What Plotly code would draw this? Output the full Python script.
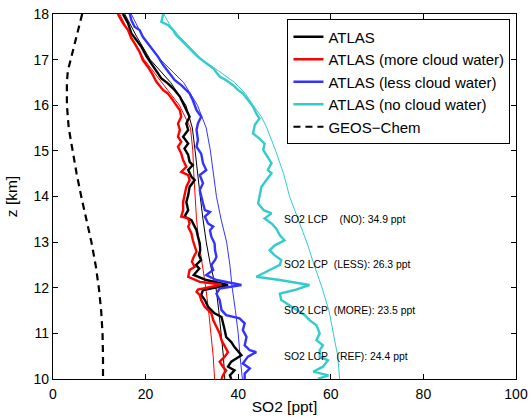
import plotly.graph_objects as go

# ---------------- data ----------------
# ATLAS reference (thick)
z_ref = [18.0, 17.80, 17.58, 17.43, 17.28, 17.07, 16.92, 16.74, 16.59, 16.48, 16.33, 16.19, 16.04, 15.89, 15.75,
         15.60, 15.46, 15.31, 15.16, 15.05, 14.91, 14.76, 14.69, 14.58, 14.43, 14.36, 14.21, 14.03, 13.88, 13.70,
         13.56, 13.48, 13.41, 13.26, 13.12, 12.97, 12.82, 12.72, 12.61, 12.50, 12.42, 12.28, 12.17, 12.06, 11.95,
         11.84, 11.73, 11.58, 11.51, 11.44, 11.36, 11.25, 11.07, 10.92, 10.81, 10.70, 10.52, 10.38, 10.27, 10.19,
         10.08, 10.0]
so2_ref = [15.1, 16.2, 16.9, 18.0, 19.1, 20.2, 21.2, 22.3, 23.4, 24.8, 26.3, 27.4, 28.1, 28.8, 29.5,
           28.8, 29.2, 28.1, 29.2, 28.4, 29.2, 29.5, 30.2, 29.2, 29.9, 30.6, 29.5, 29.2, 28.8, 29.2,
           28.4, 29.9, 30.2, 31.0, 31.3, 31.7, 31.8, 31.5, 32.0, 30.9, 31.6, 30.4, 33.1, 37.8, 32.4,
           32.0, 32.8, 33.5, 34.2, 34.9, 36.4, 36.7, 37.1, 37.4, 38.5, 39.2, 40.7, 38.5, 37.8, 39.2,
           38.2, 38.5]

# ATLAS more cloud water (thick)
z_more = [18.0, 17.80, 17.65, 17.47, 17.36, 17.17, 16.99, 16.84, 16.66, 16.52, 16.33, 16.26, 16.15, 16.04, 15.89,
          15.75, 15.60, 15.46, 15.31, 15.20, 15.09, 14.94, 14.80, 14.65, 14.54, 14.47, 14.36, 14.21, 14.03, 13.88,
          13.70, 13.56, 13.52, 13.41, 13.34, 13.19, 13.04, 12.90, 12.79, 12.68, 12.57, 12.46, 12.39, 12.24, 12.13,
          12.07, 11.96, 11.91, 11.84, 11.73, 11.58, 11.51, 11.44, 11.29, 11.14, 11.00, 10.85, 10.71, 10.59, 10.49,
          10.38, 10.27, 10.19, 10.08, 10.0]
so2_more = [14.0, 15.1, 16.2, 16.9, 17.6, 18.7, 19.4, 20.5, 21.6, 22.3, 23.8, 24.8, 25.6, 26.3, 27.4,
            27.7, 27.0, 27.4, 27.0, 27.7, 27.0, 27.7, 28.1, 28.8, 27.7, 29.2, 29.5, 28.8, 28.4, 28.1,
            28.1, 27.7, 29.2, 29.5, 29.2, 29.9, 30.2, 30.6, 31.0, 30.4, 30.0, 30.6, 29.5, 29.2, 31.7,
            36.4, 31.3, 31.0, 31.7, 32.0, 32.8, 33.5, 34.2, 34.6, 35.3, 36.0, 36.4, 37.1, 37.8, 37.1,
            36.0, 36.7, 37.4, 36.7, 36.4]

# ATLAS less cloud water (thick)
z_less = [18.0, 17.87, 17.72, 17.65, 17.50, 17.36, 17.21, 17.06, 16.88, 16.74, 16.55, 16.44, 16.26, 16.11, 15.89,
          15.75, 15.60, 15.46, 15.24, 15.09, 14.94, 14.73, 14.58, 14.47, 14.29, 14.14, 13.99, 13.85, 13.70, 13.66,
          13.56, 13.41, 13.34, 13.26, 13.12, 12.97, 12.82, 12.68, 12.61, 12.50, 12.39, 12.28, 12.17, 12.06, 11.98,
          11.87, 11.73, 11.51, 11.40, 11.33, 11.22, 11.07, 10.92, 10.74, 10.63, 10.59, 10.49, 10.34, 10.23, 10.12,
          10.0]
so2_less = [16.6, 16.9, 17.6, 18.7, 19.4, 20.5, 21.6, 22.7, 23.8, 24.8, 26.3, 27.7, 29.5, 30.2, 31.0,
            32.0, 31.3, 31.0, 31.3, 31.0, 32.0, 32.4, 33.1, 31.7, 32.4, 31.7, 32.0, 32.4, 32.8, 33.9,
            32.8, 33.5, 34.6, 33.9, 34.2, 34.9, 35.0, 35.3, 35.0, 34.2, 34.6, 33.1, 35.3, 40.7, 36.0,
            35.3, 36.0, 36.4, 37.4, 40.3, 41.4, 41.0, 41.8, 41.4, 42.5, 43.9, 42.1, 41.0, 42.5, 41.4,
            41.4]

# ATLAS no cloud water (thick)
z_no = [18.0, 17.83, 17.76, 17.65, 17.54, 17.43, 17.25, 17.06, 16.92, 16.81, 16.63, 16.55, 16.44, 16.33, 16.26,
        16.11, 15.97, 15.82, 15.71, 15.57, 15.38, 15.27, 15.16, 15.02, 14.87, 14.73, 14.58, 14.51, 14.36, 14.21,
        14.00, 13.85, 13.70, 13.63, 13.52, 13.41, 13.30, 13.15, 13.04, 12.93, 12.82, 12.71, 12.61, 12.50, 12.39,
        12.24, 12.17, 12.06, 11.95, 11.87, 11.73, 11.62, 11.47, 11.40, 11.29, 11.18, 11.00, 10.85, 10.74, 10.63,
        10.49, 10.41, 10.27, 10.16, 10.08, 10.0]
so2_no = [23.8, 23.4, 24.8, 25.9, 26.6, 27.7, 29.5, 31.3, 33.1, 34.6, 36.0, 37.4, 38.9, 40.0, 41.0,
          42.1, 43.2, 43.9, 44.6, 43.6, 43.2, 44.6, 45.7, 45.4, 46.4, 47.2, 46.4, 47.2, 46.1, 45.0,
          44.6, 44.3, 45.5, 47.2, 45.7, 47.2, 48.2, 49.0, 50.0, 47.9, 46.8, 47.9, 49.3, 49.0, 46.8,
          43.9, 49.0, 55.4, 52.2, 49.0, 49.3, 51.1, 53.3, 54.4, 55.4, 56.9, 57.6, 56.9, 58.3, 57.6,
          57.6, 59.4, 58.3, 56.2, 59.5, 57.2]

# smooth (thin) companion profiles
z_smooth = [18.0, 17.5, 17.0, 16.5, 16.0, 15.5, 15.0, 14.5, 14.0, 13.5, 13.0, 12.5, 12.0, 11.5, 11.0, 10.5, 10.0]
so2_ref_s = [15.5, 18.1, 21.0, 25.4, 28.7, 30.1, 30.7, 31.2, 31.8, 32.4, 33.1, 34.0, 35.2, 35.8, 36.3, 36.8, 37.1]
so2_more_s = [14.4, 16.9, 19.7, 23.6, 27.3, 29.7, 30.2, 30.4, 30.7, 31.0, 31.5, 32.3, 33.0, 33.6, 34.1, 34.6, 34.9]
so2_less_s = [16.9, 19.4, 23.2, 28.2, 31.2, 33.1, 34.0, 34.7, 35.3, 36.3, 37.5, 38.2, 38.7, 39.4, 40.0, 40.4, 40.9]
z_no_s = [18.0, 17.75, 17.5, 17.25, 17.0, 16.75, 16.5, 16.25, 16.0, 15.75, 15.5, 15.0, 14.5, 14.0, 13.5, 13.0,
          12.5, 12.0, 11.5, 11.0, 10.5, 10.0]
so2_no_s = [23.9, 25.3, 27.4, 29.8, 32.2, 35.8, 39.2, 41.6, 43.2, 45.0, 46.2, 48.1, 49.8, 51.1, 52.9, 54.8,
            56.4, 58.1, 59.6, 60.5, 61.5, 61.9]

# GEOS-Chem
z_gc = [18.0, 16.75, 16.5, 16.0, 15.5, 15.0, 14.5, 14.0, 13.5, 13.0, 12.5, 12.0, 11.5, 11.0, 10.5, 10.0]
so2_gc = [6.3, 3.2, 3.0, 3.0, 3.4, 4.2, 5.1, 6.1, 7.2, 8.3, 9.2, 9.9, 10.4, 10.7, 10.8, 10.8]

# LCP annotations
lcp_labels = ["SO2 LCP    (NO): 34.9 ppt", "SO2 LCP  (LESS): 26.3 ppt",
              "SO2 LCP  (MORE): 23.5 ppt", "SO2 LCP   (REF): 24.4 ppt"]
lcp_z = [13.5, 12.5, 11.5, 10.5]
lcp_x = 50

C_BLACK = "#000000"
C_RED = "#ff0000"
C_BLUE = "#3333ff"
C_CYAN = "#33cccc"

FONT = "Liberation Sans, Arial, Helvetica, sans-serif"

fig = go.Figure()

# thin smooth lines
for xs, ys, c in [(so2_ref_s, z_smooth, C_BLACK), (so2_more_s, z_smooth, C_RED),
                  (so2_less_s, z_smooth, C_BLUE), (so2_no_s, z_no_s, C_CYAN)]:
    fig.add_trace(go.Scatter(x=xs, y=ys, mode="lines", line=dict(color=c, width=1),
                             showlegend=False, hoverinfo="skip"))

# thick lines
for xs, ys, c, name in [(so2_ref, z_ref, C_BLACK, "ATLAS"),
                        (so2_more, z_more, C_RED, "ATLAS (more cloud water)"),
                        (so2_less, z_less, C_BLUE, "ATLAS (less cloud water)"),
                        (so2_no, z_no, C_CYAN, "ATLAS (no cloud water)")]:
    fig.add_trace(go.Scatter(x=xs, y=ys, mode="lines", name=name,
                             line=dict(color=c, width=2.4)))

fig.add_trace(go.Scatter(x=so2_gc, y=z_gc, mode="lines", name="GEOS\u2212Chem",
                         line=dict(color=C_BLACK, width=2.2, dash="7px,5px")))

for txt, zz in zip(lcp_labels, lcp_z):
    fig.add_annotation(x=lcp_x, y=zz, xref="x", yref="y", text=txt.replace(" ", "\u00a0"),
                       showarrow=False, xanchor="left", yanchor="middle", xshift=-3,
                       font=dict(size=10.4, color="#000000", family=FONT))

axis_common = dict(showline=True, linecolor="black", linewidth=1.3, mirror="ticks",
                   ticks="inside", ticklen=5, tickwidth=1, tickcolor="black", automargin=False,
                   showgrid=False, zeroline=False, tickfont=dict(size=14, color="black", family=FONT))

fig.update_xaxes(range=[0, 100], tickvals=[0, 20, 40, 60, 80, 100], ticklabelstandoff=2,
                 title=dict(text="SO2 [ppt]", font=dict(size=15.5, color="black", family=FONT), standoff=0),
                 **axis_common)
fig.update_yaxes(range=[10, 18], tickvals=list(range(10, 19)),
                 title=dict(text="z [km]", font=dict(size=15.5, color="black", family=FONT), standoff=12),
                 **axis_common)

fig.update_layout(
    width=531, height=420,
    margin=dict(l=53, r=15, t=14, b=41, autoexpand=False),
    paper_bgcolor="white", plot_bgcolor="white",
    font=dict(family=FONT, color="black"),
    legend=dict(x=0.988, y=0.985, xanchor="right", yanchor="top",
                bgcolor="white", bordercolor="black", borderwidth=1,
                font=dict(size=15, color="black", family=FONT),
                tracegroupgap=0),
)

fig.write_html("out.html")
